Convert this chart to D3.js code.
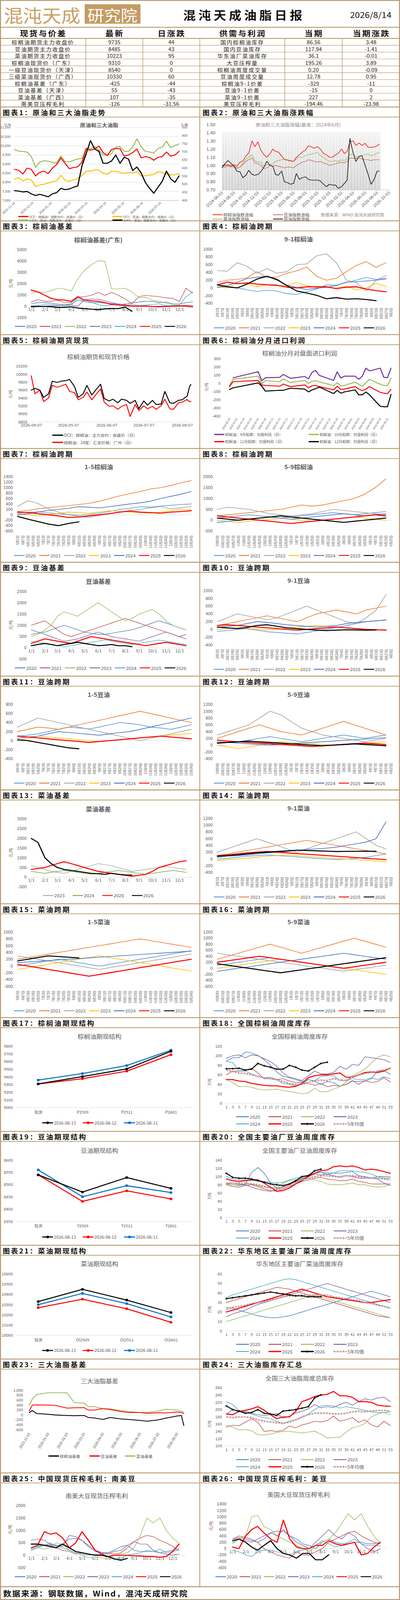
<!DOCTYPE html>
<html>
<head>
<meta charset="utf-8">
<title>混沌天成油脂日报</title>
<script src="https://cdn.jsdelivr.net/npm/d3@7/dist/d3.min.js"></script>
<style>
  html, body { margin: 0; padding: 0; background: #fff; overflow: hidden; }
  svg { display: block; }
  svg text { font-family: "Noto Sans CJK SC", "Noto Sans", sans-serif; }
</style>
</head>
<body>
<svg id="page" viewBox="0 0 1025 4456" preserveAspectRatio="none"></svg>
<script>
// ---------------- 表格数据 ----------------
var spotNames = ['棕榈油期货主力收盘价', '豆油期货主力收盘价', '菜油期货主力收盘价', '棕榈油现货价（广东）', '一级豆油现货价（天津）',
  '三级菜油现货价（广西）', '棕榈油基差（广东）', '豆油基差（天津）', '菜油基差（广西）', '南美豆压榨毛利'];
var spotLatest = ['9735', '8485', '10223', '9310', '8540', '10330', '-425', '55', '107', '-126'];
var spotChange = ['44', '43', '95', '0', '0', '60', '-44', '-43', '-35', '-31.56'];
var supplyNames = ['国内棕榈油库存', '国内豆油库存', '华东油厂菜油库存', '大豆压榨量', '棕榈油周度成交量', '豆油周度成交量',
  '棕榈油9-1价差', '豆油9-1价差', '菜油9-1价差', '美豆压榨毛利'];
var supplyNow = ['86.56', '117.94', '36.1', '195.26', '0.20', '12.78', '-329', '-15', '227', '-194.46'];
var supplyChange = ['3.48', '-1.41', '-0.01', '3.89', '-0.09', '0.95', '-11', '0', '2', '-23.98'];

// ---------------- 公共刻度 ----------------
var MONTH_DAYS = [0, 31, 59, 90, 120, 151, 181, 212, 243, 273, 304, 334];
var MONTH_LBL = ['1/1', '2/1', '3/1', '4/1', '5/1', '6/1', '7/1', '8/1', '9/1', '10/1', '11/1', '12/1'];
var SEMI_DAYS = [0, 15, 31, 45, 59, 74, 90, 105, 120, 135, 151, 166, 181, 196, 212, 227, 243, 258, 273, 288, 304, 319, 334, 349, 364];
var ODD_WEEKS = [1, 3, 5, 7, 9, 11, 13, 15, 17, 19, 21, 23, 25, 27, 29, 31, 33, 35, 37, 39, 41, 43, 45, 47, 49, 51, 53];
var YEARS = ['2020', '2021', '2022', '2023', '2024', '2025', '2026'];
var LBL_91 = ['2月1日', '2月7日', '2月13日', '2月19日', '2月25日', '3月2日', '3月8日', '3月14日', '3月20日', '3月26日', '4月1日', '4月8日',
  '4月14日', '4月20日', '4月26日', '5月5日', '5月11日', '5月17日', '5月23日', '5月29日', '6月4日', '6月10日', '6月16日', '6月22日',
  '6月28日', '7月4日', '7月10日', '7月16日', '7月22日', '7月28日', '8月3日', '8月9日', '8月15日', '8月21日', '8月27日', '9月2日'];
var LBL_15 = ['6月1日', '6月7日', '6月13日', '6月19日', '6月25日', '7月1日', '7月7日', '7月13日', '7月19日', '7月25日', '7月31日', '8月6日',
  '8月12日', '8月18日', '8月24日', '8月30日', '9月5日', '9月11日', '9月17日', '9月23日', '9月29日', '10月11日', '10月17日', '10月23日',
  '10月29日', '11月4日', '11月10日', '11月16日', '11月22日', '11月28日', '12月4日', '12月10日', '12月16日', '12月22日', '12月28日'];
var LBL_59 = ['10月9日', '10月15日', '10月21日', '10月27日', '11月2日', '11月8日', '11月14日', '11月20日', '11月26日', '12月2日', '12月8日',
  '12月14日', '12月20日', '12月26日', '1月1日', '1月7日', '1月13日', '1月19日', '1月25日', '1月31日', '2月6日', '2月12日', '2月18日',
  '2月24日', '3月2日', '3月8日', '3月14日', '3月20日', '3月26日', '4月1日', '4月7日', '4月13日', '4月19日', '4月25日'];

// ---------------- 图表1 ----------------
var c1Dates = ['2025-11-14', '2025-11-21', '2025-11-28', '2025-12-05', '2025-12-12', '2025-12-19', '2025-12-26', '2026-01-02', '2026-01-09',
  '2026-01-16', '2026-01-23', '2026-01-30', '2026-02-06', '2026-02-13', '2026-02-20', '2026-02-27', '2026-03-06', '2026-03-13', '2026-03-20',
  '2026-03-27', '2026-04-03', '2026-04-10', '2026-04-17', '2026-04-24', '2026-05-01', '2026-05-08', '2026-05-15', '2026-05-22', '2026-05-29',
  '2026-06-05', '2026-06-12', '2026-06-19', '2026-06-26', '2026-07-03', '2026-07-10', '2026-07-17', '2026-07-24', '2026-07-31', '2026-08-07', '2026-08-14'];
var c1Palm = [8705, 8650, 8440, 8770, 8700, 8340, 8540, 8600, 8475, 8770, 8970, 9330, 9030, 8740, 8800, 8840, 9100, 9820, 9750, 9820,
  9980, 9620, 9460, 9790, 9850, 9830, 9425, 9490, 9620, 9820, 9330, 9400, 9360, 9200, 9360, 9400, 9655, 9425, 9490, 9690];
var c1Soy = [8170, 8245, 8060, 8180, 8115, 7755, 7850, 7885, 7950, 8015, 8080, 8375, 8100, 8050, 8115, 8215, 8375, 8600, 8600, 8670,
  8670, 8475, 8440, 8600, 8600, 8540, 8475, 8540, 8510, 8575, 8345, 8345, 8390, 8410, 8575, 8540, 8440, 8390, 8410, 8455];
var c1Rape = [9790, 9700, 9680, 9650, 9400, 8820, 9100, 9170, 9150, 9080, 9050, 9440, 9130, 9120, 9200, 9270, 9300, 9880, 9820, 9950,
  9750, 9490, 9460, 9560, 9920, 9950, 9690, 9690, 9920, 10380, 9950, 9690, 9655, 9590, 9850, 9920, 10245, 9885, 10015, 10095];
var c1Crude = [460, 457, 452, 455, 440, 430, 437, 430, 422, 440, 448, 474, 466, 470, 481, 489, 614, 688, 769, 717,
  702, 629, 629, 643, 680, 629, 666, 655, 584, 606, 570, 511, 474, 444, 481, 518, 581, 533, 511, 551];
var c1Ticks = ['2025-11-14', '2025-12-14', '2026-01-14', '2026-02-14', '2026-03-14', '2026-04-14', '2026-05-14', '2026-06-14', '2026-07-14'];
var c1LeftTicks = [7000, 7500, 8000, 8500, 9000, 9500, 10000, 10500, 11000];
var c1RightTicks = [400, 450, 500, 550, 600, 650, 700, 750, 800, 850];

// ---------------- 图表2 ----------------
var c2Dates = ['2024-06-03', '2024-06-17', '2024-07-03', '2024-07-17', '2024-08-03', '2024-08-17', '2024-09-03', '2024-09-17', '2024-10-03',
  '2024-10-17', '2024-11-03', '2024-11-17', '2024-12-03', '2024-12-17', '2025-01-03', '2025-01-17', '2025-02-03', '2025-02-17', '2025-03-03',
  '2025-03-17', '2025-04-03', '2025-04-17', '2025-05-03', '2025-05-17', '2025-06-03', '2025-06-17', '2025-07-03', '2025-07-17', '2025-08-03',
  '2025-08-17', '2025-09-03', '2025-09-17', '2025-10-03', '2025-10-17', '2025-11-03', '2025-11-17', '2025-12-03', '2025-12-17', '2026-01-03',
  '2026-01-17', '2026-02-03', '2026-02-17', '2026-03-03', '2026-03-17', '2026-04-03', '2026-04-17', '2026-05-03', '2026-05-17', '2026-06-03',
  '2026-06-17', '2026-07-03', '2026-07-17', '2026-08-03', '2026-08-14'];
var c2Palm = [1.00, 1.005, 1.01, 0.99, 1.01, 0.99, 1.04, 1.055, 1.115, 1.15, 1.30, 1.23, 1.29, 1.19, 1.13, 1.10, 1.145, 1.20, 1.17, 1.165,
  1.115, 1.07, 1.065, 1.055, 1.05, 1.10, 1.13, 1.165, 1.19, 1.24, 1.225, 1.21, 1.23, 1.20, 1.145, 1.13, 1.10, 1.10, 1.13, 1.15,
  1.20, 1.145, 1.17, 1.29, 1.30, 1.245, 1.275, 1.245, 1.27, 1.225, 1.22, 1.225, 1.24, 1.26];
var c2Soy = [1.00, 0.99, 1.00, 0.98, 0.99, 0.97, 0.98, 1.01, 1.05, 1.07, 1.09, 1.03, 1.02, 1.00, 0.96, 0.97, 1.00, 0.99, 1.00, 0.99,
  0.98, 0.97, 0.98, 0.98, 0.97, 1.00, 1.02, 1.04, 1.05, 1.07, 1.06, 1.05, 1.04, 1.05, 1.03, 1.02, 1.00, 1.01, 1.02, 1.03,
  1.04, 1.03, 1.05, 1.09, 1.09, 1.09, 1.09, 1.08, 1.07, 1.07, 1.06, 1.07, 1.07, 1.07];
var c2Rape = [1.00, 0.97, 0.99, 1.01, 0.98, 0.96, 0.98, 1.03, 1.08, 1.10, 1.13, 1.06, 1.04, 1.04, 0.99, 1.01, 1.01, 1.02, 1.05, 1.06,
  1.07, 1.08, 1.07, 1.06, 1.05, 1.08, 1.10, 1.10, 1.12, 1.13, 1.14, 1.15, 1.16, 1.12, 1.10, 1.07, 1.05, 1.05, 1.06, 1.05,
  1.07, 1.06, 1.08, 1.14, 1.13, 1.11, 1.11, 1.12, 1.13, 1.14, 1.12, 1.13, 1.15, 1.16];
var c2Crude = [0.97, 1.02, 1.06, 1.03, 0.99, 0.93, 0.92, 0.85, 0.88, 0.94, 0.89, 0.88, 0.89, 0.92, 0.98, 1.05, 1.00, 0.99, 0.89, 0.88,
  0.93, 0.80, 0.79, 0.77, 0.78, 0.90, 0.83, 0.85, 0.86, 0.83, 0.82, 0.82, 0.82, 0.81, 0.77, 0.74, 0.77, 0.76, 0.76, 0.72,
  0.74, 0.78, 0.82, 1.33, 1.15, 1.05, 1.11, 1.12, 1.00, 0.90, 0.77, 0.82, 0.93, 0.93];
var c2BandTop = 1.41;
var c2Ticks = ['2024-06-03', '2024-08-03', '2024-10-03', '2024-12-03', '2025-02-03', '2025-04-03', '2025-06-03', '2025-08-03', '2025-10-03',
  '2025-12-03', '2026-02-03', '2026-04-03', '2026-06-03', '2026-08-03', '2026-10-03'];
var c2YTicks = [0.70, 0.80, 0.90, 1.00, 1.10, 1.20, 1.30, 1.40, 1.50];

// ---------------- 图表3 棕榈油基差 ----------------
var c3Basis = [
  [230, 340, 340, 290, 230, 130, 230, 550, 450, 340, 340, 290, 250, 230, 180, 340, 390, 450, 450, 340, 390, 230, 230, 340, 410],
  [390, 600, 450, 450, 550, 360, 340, 820, 870, 980, 1240, 980, 1240, 1000, 660, 230, 870, 980, 920, 870, 760, 710, 450, 1610, 1190],
  [1190, 1290, 1240, 1400, 1610, 1560, 1350, 2460, 3200, 3680, 4050, 4000, 1560, 1560, 1610, 1290, 760, 820, 550, 450, 290, 150, 110, 40, -80],
  [-80, -30, 20, 70, 70, 130, 130, 20, 600, 660, 640, 500, 340, 230, 130, 70, 40, 20, 0, 20, 40, 70, 40, -30, -80],
  [40, 70, 180, 180, 130, 70, 110, 760, 450, 390, 150, 70, 130, 180, 230, 180, 110, 130, 180, 230, 70, 70, 130, 870, 1290],
  [1450, 1290, 980, 710, 600, 570, 450, 870, 570, 500, 450, 340, 180, 130, 70, 40, 20, 40, 0, -30, 0, 20, 40, 70, 20],
  [0, 0, 0, -20, -80, -80, -30, -140, -190, -240, -280, -210, -190, -190, -60, -425]
];
var c3Ticks = [-1000, 0, 1000, 2000, 3000, 4000, 5000];

// ---------------- 图表4 9-1棕榈油 ----------------
var c4Spread = [
  [20, 30, 0, -50, -90, -60, -80, -150, -170, -100, -30, 80, 70, 140, 200, 270, 220, 250],
  [140, 200, 220, 260, 420, 270, 280, 380, 440, 540, 300, 200, 250, 420, 580, 680, 530, 650],
  [450, 430, 650, 560, 380, 500, 380, 420, 600, 620, 830, 880, 650, 200, 140, -80, 200, 320],
  [30, 0, 130, 100, 30, 80, 50, 70, 140, 60, 10, 10, 0, 40, -50, 0, 120, 40],
  [20, 60, 150, 240, 280, 300, 200, 70, 10, -40, -10, 20, 60, 150, 160, 180, 200, 230],
  [80, 150, 110, 130, 100, 80, 70, 20, 0, 30, 30, 30, -20, 20, 30, -30, -70, -100],
  [80, 30, 0, 100, 230, 300, 220, 60, -80, -130, -190, -280, -250, -290, -280, -300, -329]
];
var c4Ticks = [-400, -200, 0, 200, 400, 600, 800, 1000];

// ---------------- 图表5 棕榈油期货现货 ----------------
var c5Dates = ['2026-04-07', '2026-04-10', '2026-04-14', '2026-04-17', '2026-04-21', '2026-04-24', '2026-04-28', '2026-05-01', '2026-05-05',
  '2026-05-08', '2026-05-12', '2026-05-15', '2026-05-19', '2026-05-22', '2026-05-26', '2026-05-29', '2026-06-02', '2026-06-05', '2026-06-09',
  '2026-06-12', '2026-06-16', '2026-06-19', '2026-06-23', '2026-06-26', '2026-06-30', '2026-07-03', '2026-07-07', '2026-07-10', '2026-07-14',
  '2026-07-17', '2026-07-21', '2026-07-24', '2026-07-28', '2026-07-31', '2026-08-04', '2026-08-07', '2026-08-11', '2026-08-13', '2026-08-14'];
var c5Futures = [9600, 9643, 9600, 9417, 9507, 9823, 9793, 9823, 9838, 9869, 9688, 9417, 9507, 9718, 9477, 9598, 9748, 9387, 9327,
  9372, 9281, 9372, 9342, 9267, 9342, 9131, 9327, 9221, 9342, 9236, 9251, 9567, 9281, 9267, 9342, 9357, 9447, 9688, 9739];
var c5Spot = [9959, 9507, 9598, 9311, 9402, 9718, 9673, 9703, 9748, 9567, 9537, 9357, 9417, 9552, 9357, 9477, 9628, 9296, 9191,
  9206, 9116, 9191, 9236, 8935, 9236, 9086, 9206, 9131, 9191, 9116, 9206, 9372, 9131, 9116, 9281, 9296, 9363, 9311, 9310];
var c5Ticks = ['2026-04-07', '2026-05-07', '2026-06-07', '2026-07-07', '2026-08-07'];
var c5YTicks = [8800, 9000, 9200, 9400, 9600, 9800, 10000, 10200];

// ---------------- 图表6 分月进口利润 ----------------
var c6Dates = ['2026-06-29', '2026-06-30', '2026-07-07', '2026-07-08', '2026-07-09', '2026-07-13', '2026-07-14', '2026-07-16', '2026-07-20',
  '2026-07-21', '2026-07-22', '2026-07-23', '2026-07-24', '2026-07-28', '2026-07-29', '2026-07-30', '2026-07-31', '2026-08-03', '2026-08-04',
  '2026-08-05', '2026-08-06', '2026-08-07', '2026-08-10', '2026-08-11', '2026-08-12', '2026-08-13'];
var c6Sep = [null, 68, 141, 32, 68, 73, 109, 61, 83, 54, 134, 156, 97, 35, 141, 64, 87, 87, 49, 87, 185, 151, 185, 73, 68, 185];
var c6Oct = [-26, 49, 87, -4, 32, 20, 54, 10, 36, -1, 25, 32, 20, -29, 6, -31, -26, 15, -12, -38, 6, 49, -12, -26, -29, 64];
var c6Nov = [-40, 20, 35, -20, -25, -35, -10, -40, -20, -55, -30, -25, -40, -80, -35, -75, -70, -40, -70, -90, -70, -40, -110, -120, -125, -75];
var c6Dec = [-75, -55, 5, -35, -95, -85, -85, -60, -70, -105, -80, -65, -45, -125, -85, -120, -105, -80, -140, -140, -105, -140, -280, -285, -285, -135];
var c6Ticks = ['2026-06-29', '2026-07-01', '2026-07-03', '2026-07-05', '2026-07-07', '2026-07-09', '2026-07-11', '2026-07-13', '2026-07-15',
  '2026-07-17', '2026-07-19', '2026-07-21', '2026-07-23', '2026-07-25', '2026-07-27', '2026-07-29', '2026-07-31', '2026-08-02', '2026-08-04',
  '2026-08-06', '2026-08-08', '2026-08-10', '2026-08-12'];
var c6YTicks = [-400, -300, -200, -100, 0, 100, 200, 300];

// ---------------- 图表7/8 棕榈油跨期 ----------------
var c7Spread = [
  [60, 90, 110, 70, 40, 10, -20, 20, 60, 120, 200, 240, 300, 280, 320, 350, 380, 400],
  [120, 160, 220, 260, 300, 340, 380, 420, 500, 600, 700, 780, 860, 950, 1000, 1080, 1180, 1260],
  [300, 520, 420, 220, 100, 0, -60, -100, -20, 50, 100, 160, 200, 260, 300, 220, 260, 300],
  [40, 0, -40, 10, 50, 100, 80, 60, 100, 150, 120, 100, 80, 60, 100, 150, 200, 180],
  [0, 40, 100, 160, 200, 240, 300, 280, 250, 300, 350, 400, 440, 500, 600, 680, 760, 860],
  [100, 80, 40, 0, -40, -100, -80, -40, 0, 40, 100, 140, 100, 80, 60, 100, 120, 150],
  [-60, -160, -250, -340, -400, -320, -260]
];
var c7Ticks = [-600, -400, -200, 0, 200, 400, 600, 800, 1000, 1200, 1400];
var c8Spread = [
  [100, 150, 200, 250, 200, 150, 100, 150, 200, 250, 300, 350, 300, 250, 300, 350, 400],
  [200, 250, 300, 350, 400, 450, 500, 600, 700, 650, 700, 800, 900, 1000, 1200, 1500, 1900],
  [500, 600, 550, 500, 400, 300, 250, 200, 250, 300, 400, 500, 450, 400, 350, 300, 250],
  [0, -50, -100, -50, 0, 50, 100, 50, 0, -50, 0, 50, 100, 150, 100, 50, 0],
  [-100, -50, 0, 50, 100, 150, 100, 50, 100, 150, 200, 250, 300, 250, 200, 250, 300],
  [200, 150, 100, 50, 0, -50, -100, -150, -100, -50, 0, 50, 100, 150, 200, 250, 200],
  [100, 50, 0, 50, 100, 150, 200, 150, 100, 50, 0, -50, -100, -50, 0, 50, 100]
];
var c8Ticks = [-500, 0, 500, 1000, 1500, 2000];

// ---------------- 图表9-12 豆油 ----------------
var c9Basis = [
  [600, 650, 700, 800, 900, 1000, 900, 800, 700, 650, 600, 600, 650, 700, 750, 800, 900, 1000, 1100, 1200, 1100, 1000, 900, 800],
  [1000, 1100, 1200, 1000, 800, 600, 500, 600, 700, 800, 900, 1000, 1100, 1200, 1300, 1200, 1100, 1000, 900, 800, 700, 600, 500, 600],
  [500, 600, 800, 1000, 1400, 1600, 1500, 1400, 1600, 1800, 2000, 1800, 1600, 1400, 1200, 1300, 1500, 1600, 1700, 1500, 1200, 1000, 900, 800],
  [800, 700, 600, 500, 400, 300, 350, 400, 500, 600, 700, 600, 500, 450, 400, 350, 300, 400, 500, 600, 700, 600, 500, 400],
  [300, 250, 200, 150, 100, 50, 100, 150, 200, 250, 300, 350, 300, 250, 200, 150, 200, 250, 300, 350, 300, 250, 200, 150],
  [200, 300, 400, 350, 300, 250, 200, 300, 400, 500, 450, 400, 350, 300, 250, 200, 150, 100, 150, 200, 250, 200, 150, 100],
  [100, 150, 200, 150, 100, 150, 200, 250, 200, 150, 100, 120, 150, 100, 98, 55]
];
var c9Ticks = [-500, 0, 500, 1000, 1500, 2000, 2500];
var c10Spread = [
  [-50, -30, 0, 20, -20, -60, -80, -100, -120, -80, -40, 0, 50, 100, 150, 200, 220, 250],
  [100, 150, 200, 250, 300, 350, 300, 250, 200, 300, 400, 450, 500, 450, 400, 500, 550, 600],
  [200, 300, 400, 350, 300, 250, 300, 400, 500, 600, 500, 400, 300, 200, 150, 300, 500, 900],
  [0, 20, 50, 30, 0, -20, 0, 30, 60, 80, 100, 80, 60, 40, 20, 0, -20, 0],
  [50, 80, 100, 150, 200, 180, 150, 120, 100, 80, 60, 80, 100, 150, 180, 200, 220, 240],
  [100, 120, 100, 80, 60, 40, 20, 0, -20, 0, 20, 40, 60, 40, 20, 0, -10, -20],
  [60, 40, 20, 50, 100, 120, 80, 40, 20, 0, -20, -30, -20, -10, -15, -20, -15]
];
var c10Ticks = [-400, -200, 0, 200, 400, 600, 800, 1000];
var c11Spread = [
  [100, 120, 150, 200, 250, 300, 280, 260, 300, 350, 400, 380, 350, 300, 280, 250, 300, 350],
  [200, 250, 300, 280, 250, 300, 350, 400, 450, 500, 550, 600, 650, 600, 550, 500, 450, 400],
  [300, 400, 500, 450, 400, 350, 300, 250, 200, 150, 100, 50, 0, 50, 100, 150, 200, 250],
  [0, 50, 100, 80, 60, 40, 20, 0, -20, 0, 20, 40, 60, 80, 100, 120, 140, 160],
  [50, 80, 100, 150, 200, 180, 160, 140, 120, 150, 180, 200, 250, 300, 350, 400, 450, 500],
  [100, 80, 60, 40, 20, 0, -20, -40, -20, 0, 20, 40, 60, 80, 100, 80, 60, 40],
  [20, 0, -40, -80, -120, -160, -180]
];
var c11Ticks = [-400, -200, 0, 200, 400, 600, 800];
var c12Spread = [
  [50, 80, 100, 150, 200, 250, 200, 150, 100, 150, 200, 250, 300, 250, 200, 250, 300],
  [200, 300, 400, 500, 600, 500, 400, 350, 300, 400, 500, 600, 700, 600, 500, 400, 300],
  [300, 400, 500, 600, 800, 1000, 900, 700, 500, 400, 300, 250, 200, 150, 100, 150, 200],
  [0, -50, -100, -50, 0, 50, 100, 80, 60, 40, 20, 0, 20, 40, 60, 80, 100],
  [100, 80, 60, 40, 20, 0, 20, 40, 60, 80, 100, 120, 140, 160, 180, 200, 220],
  [150, 120, 100, 80, 60, 40, 20, 0, -20, -40, -20, 0, 20, 40, 60, 40, 20],
  [60, 80, 100, 120, 100, 80, 60, 40, 20, 0, -20, 0, 20, 40, 20, 0, -20]
];
var c12Ticks = [-400, -200, 0, 200, 400, 600, 800, 1000, 1200];

// ---------------- 图表13-16 菜油 ----------------
var c13Years = ['2023', '2024', '2025', '2026'];
var c13Basis = [
  [600, 500, 400, 300, 250, 200, 300, 400, 500, 600, 700, 650, 600, 500, 400, 300, 350, 400, 450, 500, 550, 500, 450, 400],
  [300, 250, 200, 250, 300, 350, 300, 250, 200, 150, 200, 250, 300, 350, 300, 250, 200, 150, 200, 250, 300, 350, 300, 250],
  [400, 450, 500, 600, 700, 800, 700, 600, 500, 400, 300, 250, 200, 150, 100, 50, 100, 150, 300, 500, 600, 700, 800, 850],
  [2000, 1800, 1000, 700, 500, 400, 350, 300, 250, 200, 180, 150, 200, 150, 120, 107]
];
var c13Ticks = [-500, 0, 500, 1000, 1500, 2000, 2500, 3000];
var c14Spread = [
  [0, 20, 50, 80, 100, 120, 100, 80, 60, 40, 20, 0, -20, 0, 20, 50, 100, 150],
  [100, 150, 200, 250, 300, 350, 400, 450, 500, 550, 500, 450, 400, 350, 300, 250, 200, 150],
  [200, 300, 400, 500, 600, 500, 400, 300, 200, 300, 400, 500, 600, 700, 800, 600, 400, 300],
  [-50, -20, 0, 20, 50, 80, 100, 120, 100, 80, 60, 40, 20, 0, -20, -40, -60, -80],
  [50, 80, 100, 120, 150, 180, 200, 220, 250, 280, 300, 320, 350, 400, 450, 500, 600, 1100],
  [100, 120, 150, 180, 200, 220, 200, 180, 160, 140, 120, 100, 80, 60, 40, 20, 0, -20],
  [80, 100, 120, 150, 180, 200, 220, 240, 260, 250, 240, 230, 220, 225, 227, 230, 227]
];
var c14Ticks = [-400, -200, 0, 200, 400, 600, 800, 1000, 1200];
var c15Spread = [
  [0, 50, 100, 150, 200, 150, 100, 50, 0, 50, 100, 150, 200, 250, 300, 350, 400, 450],
  [200, 250, 300, 350, 400, 450, 500, 550, 600, 650, 700, 750, 800, 750, 700, 650, 600, 550],
  [300, 250, 200, 150, 100, 50, 0, -50, -100, -50, 0, 50, 100, 150, 200, 250, 300, 350],
  [-100, -50, 0, 50, 100, 150, 200, 250, 300, 250, 200, 150, 100, 50, 0, -50, -100, -150],
  [100, 120, 140, 160, 180, 200, 220, 240, 260, 280, 300, 320, 340, 360, 380, 400, 420, 440],
  [50, 0, -50, -100, -150, -200, -250, -300, -250, -200, -150, -100, -50, 0, 50, 100, 150, 200],
  [150, 200, 250, 300, 280, 260, 240]
];
var c15Ticks = [-600, -400, -200, 0, 200, 400, 600, 800, 1000];
var c16Spread = [
  [100, 150, 200, 250, 300, 350, 300, 250, 200, 150, 100, 50, 0, 50, 100, 150, 200],
  [300, 400, 500, 600, 700, 800, 700, 600, 500, 600, 700, 800, 900, 1000, 900, 800, 700],
  [500, 450, 400, 350, 300, 250, 200, 150, 100, 50, 0, -50, -100, -50, 0, 50, 100],
  [0, 50, 100, 150, 200, 250, 300, 250, 200, 150, 100, 50, 0, -50, -100, -150, -200],
  [-100, -50, 0, 50, 100, 150, 200, 250, 300, 350, 400, 450, 500, 450, 400, 350, 300],
  [200, 250, 300, 350, 400, 350, 300, 250, 200, 150, 100, 50, 0, 50, 100, 150, 200],
  [150, 100, 50, 0, -50, -100, -150, -100, -50, 0, 50, 100, 150, 200, 250, 300, 350]
];
var c16Ticks = [-600, -400, -200, 0, 200, 400, 600, 800, 1000, 1200];

// ---------------- 期现结构 ----------------
var structDates = ['2026-08-13', '2026-08-12', '2026-08-11'];
var c17Cats = ['现货', 'P2509', 'P2511', 'P2601'];
var c17Vals = [[9310, 9406, 9505, 9735], [9310, 9378, 9476, 9691], [9360, 9445, 9550, 9749]];
var c17Ticks = [9000, 9100, 9200, 9300, 9400, 9500, 9600, 9700, 9800];
var c19Cats = ['现货', 'Y2509', 'Y2511', 'Y2601'];
var c19Vals = [[8540, 8470, 8529, 8485], [8540, 8432, 8475, 8442], [8560, 8451, 8496, 8468]];
var c19Ticks = [8350, 8400, 8450, 8500, 8550, 8600];
var c21Cats = ['现货', 'OI2509', 'OI2511', 'OI2601'];
var c21Vals = [[10330, 10450, 10345, 10223], [10270, 10353, 10260, 10128], [10300, 10410, 10310, 10180]];
var c21Ticks = [10000, 10100, 10200, 10300, 10400, 10500, 10600];

// ---------------- 周度库存 ----------------
var c18Stock = [
  [89, 96, 96, 108, 106, 101, 92, 80, 66, 57, 54, 50, 46, 50, 47, 40, 46, 44, 36, 40, 47, 46, 47, 52, 68, 69, 61],
  [60, 68, 68, 70, 74, 64, 52, 52, 50, 52, 47, 44, 44, 42, 38, 42, 35, 38, 36, 40, 48, 40, 48, 44, 46, 54, 45],
  [50, 44, 35, 36, 34, 30, 28, 29, 30, 27, 25, 23, 20, 22, 32, 24, 25, 30, 35, 45, 58, 65, 72, 85, 97, 102, 98],
  [95, 100, 102, 96, 102, 100, 94, 88, 78, 64, 55, 52, 48, 58, 68, 62, 62, 65, 78, 72, 82, 80, 98, 96, 94, 92, 86],
  [88, 86, 68, 68, 62, 56, 54, 55, 50, 42, 40, 37, 40, 50, 47, 57, 58, 58, 48, 48, 52, 50, 50, 54, 50, 56, 52],
  [50, 50, 47, 46, 42, 40, 38, 37, 37, 35, 34, 36, 42, 54, 58, 60, 60, 62, 64, 55, 55, 60, 65, 66, 65, 68, 74],
  [73, 73, 74, 70, 72, 84, 79, 76, 72, 72, 80, 76, 70, 68, 76, 84, 86.56]
];
var c18Avg = [70, 67, 64, 63, 60, 57, 54, 52, 50, 46, 42, 40, 40, 44, 48, 49, 48, 52, 50, 48, 56, 60, 63, 65, 68, 70, 74];
var c18Ticks = [0, 20, 40, 60, 80, 100, 120];
var c20Stock = [
  [84, 80, 78, 80, 110, 122, 108, 84, 72, 75, 80, 88, 96, 100, 106, 104, 106, 108, 108, 110, 112, 102, 100, 96, 94, 84, 78],
  [80, 76, 74, 78, 80, 76, 70, 66, 64, 70, 76, 82, 88, 92, 96, 98, 94, 92, 90, 90, 94, 88, 86, 82, 82, 82, 82],
  [82, 80, 80, 82, 82, 78, 74, 72, 74, 84, 90, 92, 94, 96, 92, 88, 82, 80, 80, 82, 84, 80, 80, 76, 74, 76, 80],
  [82, 84, 82, 80, 74, 70, 66, 64, 68, 74, 80, 86, 94, 102, 108, 110, 106, 102, 98, 102, 100, 96, 96, 96, 100, 100, 99],
  [100, 94, 92, 92, 90, 90, 88, 86, 84, 86, 92, 96, 100, 104, 108, 110, 110, 108, 114, 114, 114, 112, 110, 106, 100, 96, 96],
  [94, 90, 88, 90, 92, 92, 84, 74, 64, 66, 72, 82, 90, 100, 108, 114, 116, 124, 126, 124, 126, 122, 116, 118, 116, 112, 108],
  [108, 98, 96, 96, 94, 90, 86, 82, 80, 78, 82, 90, 100, 102, 114, 117.94]
];
var c20Avg = [84, 84, 84, 84, 82, 80, 76, 72, 70, 74, 80, 86, 92, 96, 100, 102, 102, 100, 100, 102, 102, 100, 98, 96, 96, 94, 92];
var c20Ticks = [0, 20, 40, 60, 80, 100, 120, 140];
var c22Stock = [
  [25, 24, 22, 20, 18, 16, 15, 14, 14, 15, 16, 18, 20, 22, 24, 26, 28, 30, 32, 34, 36, 38, 40, 42, 40, 38, 36],
  [30, 32, 34, 36, 38, 40, 42, 44, 46, 45, 44, 42, 40, 38, 36, 34, 32, 30, 28, 26, 24, 22, 20, 18, 16, 15, 14],
  [10, 12, 14, 16, 18, 20, 22, 24, 26, 28, 30, 32, 34, 36, 38, 36, 34, 32, 30, 28, 26, 24, 22, 20, 18, 16, 14],
  [15, 18, 20, 22, 25, 28, 30, 32, 34, 36, 38, 40, 42, 44, 46, 48, 50, 48, 46, 44, 42, 40, 38, 36, 34, 32, 30],
  [35, 38, 40, 42, 44, 46, 48, 50, 52, 54, 55, 54, 52, 50, 48, 46, 44, 42, 40, 38, 36, 34, 32, 30, 28, 26, 24],
  [20, 22, 24, 26, 28, 30, 32, 34, 36, 38, 40, 42, 44, 42, 40, 38, 36, 35, 34, 33, 32, 31, 30, 30, 31, 32, 33],
  [34, 35, 36, 37, 38, 39, 40, 41, 40, 39, 38, 37, 37, 36, 36, 36.1]
];
var c22Avg = [23, 25, 26, 27, 29, 30, 31, 33, 34, 36, 37, 37, 38, 38, 38, 38, 38, 36, 35, 34, 33, 32, 30, 29, 27, 26, 24];
var c22Ticks = [0, 10, 20, 30, 40, 50, 60];
var c24Stock = [
  [],
  [152, 157, 156, 165, 175, 165, 140, 142, 140, 143, 155, 150, 158, 162, 168, 166, 170, 182, 168, 172, 178, 165, 172, 158, 152, 168, 156],
  [157, 152, 144, 145, 142, 131, 130, 133, 137, 140, 140, 138, 136, 138, 141, 132, 122, 123, 124, 138, 150, 154, 162, 180, 188, 192, 186],
  [187, 200, 194, 196, 190, 186, 184, 186, 190, 176, 182, 190, 196, 202, 214, 205, 208, 206, 214, 220, 212, 222, 230, 226, 232, 234, 222],
  [222, 214, 198, 192, 188, 182, 178, 175, 168, 162, 168, 172, 178, 188, 200, 210, 212, 210, 204, 208, 205, 202, 198, 194, 192, 192, 194],
  [188, 186, 195, 198, 202, 208, 198, 186, 175, 180, 180, 195, 222, 228, 236, 240, 242, 250, 238, 238, 234, 222, 222, 220, 212, 210, 209],
  [210, 200, 196, 190, 192, 200, 190, 188, 184, 196, 198, 200, 204, 208, 232, 240.6]
];
var c24Avg = [180, 178, 180, 180, 178, 172, 168, 166, 164, 162, 166, 172, 180, 186, 190, 190, 190, 188, 188, 190, 194, 196, 194, 196, 198, 198, 196];
var c24Ticks = [100, 120, 140, 160, 180, 200, 220, 240, 260];

// ---------------- 图表23 三大油脂基差 ----------------
var c23Dates = ['2025-12-03', '2025-12-08', '2025-12-15', '2026-01-03', '2026-01-15', '2026-02-03', '2026-02-15', '2026-03-03', '2026-03-10',
  '2026-03-20', '2026-04-03', '2026-04-15', '2026-05-03', '2026-05-15', '2026-06-03', '2026-06-15', '2026-07-03', '2026-07-15', '2026-08-03',
  '2026-08-10', '2026-08-14'];
var c23Palm = [100, 180, 60, 30, 0, -20, -30, -20, -100, -120, -180, -100, -160, -180, -220, -250, -200, -130, -40, -20, -425];
var c23Soy = [170, 400, 410, 400, 390, 280, 290, 300, 200, 200, 260, 220, 140, 100, 100, 70, 90, 80, 120, 100, 55];
var c23Rape = [400, 650, 830, 900, 900, 900, 500, 480, 340, 340, 260, 250, 180, 140, 100, 100, 160, 230, 200, 150, 107];
var c23Ticks = ['2025-12-03', '2026-01-03', '2026-02-03', '2026-03-03', '2026-04-03', '2026-05-03', '2026-06-03', '2026-07-03', '2026-08-03'];
var c23YTicks = [-600, -400, -200, 0, 200, 400, 600, 800, 1000];

// ---------------- 图表25/26 压榨毛利 ----------------
var c25Margin = [
  [250, 350, 400, 420, 380, 450, 650, 680, 600, 400, 200, 120, 100, 200, 350, 400, 200, 150, 150, 150, 100, 150, 200, 250],
  [300, 400, 420, 400, 300, 200, 150, 50, 100, 50, 0, 50, 100, 50, 100, 300, 550, 700, 800, 750, 600, 500, 350, 200],
  [200, 300, 250, 300, 500, 450, 200, 100, 0, -100, -50, -100, -150, 0, 50, 100, 300, 800, 1500, 1300, 1500, 1000, 700, 500],
  [600, 650, 600, 450, 400, 350, 800, 750, 600, 350, 150, 100, 50, 150, 200, 400, 550, 450, 450, 200, 100, 50, 0, 50],
  [200, 300, 400, 500, 350, 300, 200, 100, 50, 0, 50, 0, -50, -100, -150, 0, 50, 100, 200, 150, 250, 100, 150, 200],
  [300, 400, 950, 850, 900, 700, 300, 500, 950, 600, 200, 50, -50, 0, 0, 0, -20, -30, -50, -50, -80, -50, 150, 450],
  [450, 450, 400, 350, 300, 450, 300, 150, 100, 50, 0, 0, -50, -150, -200, -126]
];
var c25Ticks = [-500, 0, 500, 1000, 1500, 2000];
var c26Margin = [
  [200, 300, 250, 200, 300, 400, 500, 550, 550, 400, 300, 150, 100, 0, 200, 300, 200, 150, 150, 200, 200, 150, 150, 200],
  [300, 400, 350, 300, 200, 0, -100, -200, -250, -300, -100, -200, -200, -100, 0, 200, 300, 400, 500, 550, 400, 300, 200, 150],
  [150, 300, 400, 1000, 1050, 700, 600, 400, 300, 200, 100, 0, -100, 100, 200, 300, 500, 800, 1100, 900, 1100, 700, 400, 150],
  [300, 350, 300, 250, 200, 300, 500, 400, 600, 400, 200, 100, 0, 200, 400, 600, 400, 300, 500, 400, 150, 0, -100, 0],
  [-50, -100, -200, -250, -100, -50, -50, -100, -150, -200, -100, -50, 0, 100, 250, 150, 50, 100, 200, 300, 150, 100, 100, 80],
  [50, 0, 400, 600, 700, 500, 300, 200, 900, 300, 50, 0, 0, 100, 100, 250, 150, 100, 150, 200, -200, -150, 50, 200],
  [250, 300, 200, 50, -50, 100, 250, 0, -150, -200, -300, -150, -150, -350, -350, -194]
];
var c26Ticks = [-600, -400, -200, 0, 200, 400, 600, 800, 1000, 1200, 1400];

// ---------------- 样式 ----------------
var GOLD = '#b8996a';
var TXT = '#595959';
var SEASON_COLORS = ['#4f81bd', '#c0504d', '#9bbb59', '#8064a2', '#4bacc6', '#ff0000', '#000000'];
var SPREAD_COLORS = ['#5b9bd5', '#ed7d31', '#a5a5a5', '#ffc000', '#4472c4', '#ff0000', '#000000'];
var RAPE_COLORS = ['#a5a5a5', '#70ad47', '#ff0000', '#000000'];
var STRUCT_COLORS = ['#000000', '#ff0000', '#0070c0'];
var AVG_COLOR = '#943634';

// 页面按 1025x4456 绘制；窗口较矮时整体缩放到可见高度
var svg = d3.select('#page')
  .attr('width', 1025)
  .attr('height', Math.min(4456, window.innerHeight || 4456));
var defs = svg.append('defs');
var parseDate = d3.timeParse('%Y-%m-%d');
var fmtPlain = function(d) { return String(d); };
var fmtComma = function(d) { return (d < 0 ? '-' : '') + d3.format(',')(Math.abs(d)); };
var fmt2 = function(d) { return d.toFixed(2); };

// ---------------- 小工具 ----------------
function addTitle(g, txt, x, y, size, o) {
  o = o || {};
  return g.append('text').attr('x', x).attr('y', y).attr('text-anchor', 'middle')
    .attr('dominant-baseline', 'central').style('font-size', size + 'px')
    .style('font-weight', o.weight || 'normal').attr('fill', o.color || TXT).text(txt);
}

function unitLabel(g, txt, x, y, rot, size, color) {
  g.append('text').attr('text-anchor', 'middle').attr('dominant-baseline', 'central')
    .attr('transform', 'translate(' + x + ',' + y + ')' + (rot ? ' rotate(' + rot + ')' : ''))
    .style('font-size', (size || 10) + 'px').attr('fill', color || '#8c6d5a').text(txt);
}

function hLine(g, x0, x1, yy, color, w) {
  g.append('line').attr('x1', x0).attr('x2', x1).attr('y1', yy).attr('y2', yy)
    .attr('stroke', color || '#d9d9d9').attr('stroke-width', w || 1);
}

function styleAxis(a, size, color) {
  a.attr('font-family', null).attr('font-size', null);
  a.select('.domain').remove();
  a.selectAll('text').style('font-size', size + 'px').attr('fill', color || TXT);
}

function yAxisLeft(g, y, ticks, axX, labelX, o) {
  o = o || {};
  var a = g.append('g').attr('transform', 'translate(' + axX + ',0)')
    .call(d3.axisLeft(y).tickValues(ticks).tickSize(o.grid ? -o.grid : 0)
      .tickPadding(axX - labelX).tickFormat(o.fmt || fmtPlain));
  styleAxis(a, o.size || 10, o.color);
  a.selectAll('line').attr('stroke', '#d9d9d9');
  return a;
}

function yAxisRight(g, y, ticks, axX, labelX, o) {
  o = o || {};
  var a = g.append('g').attr('transform', 'translate(' + axX + ',0)')
    .call(d3.axisRight(y).tickValues(ticks).tickSize(0).tickPadding(labelX - axX).tickFormat(o.fmt || fmtPlain));
  styleAxis(a, o.size || 10, o.color);
  return a;
}

function xAxisBottom(g, x, ticks, yPos, o) {
  o = o || {};
  var a = g.append('g').attr('transform', 'translate(0,' + yPos + ')')
    .call(d3.axisBottom(x).tickValues(ticks).tickSize(o.tick || 0).tickPadding(o.pad || 4).tickFormat(o.fmt));
  styleAxis(a, o.size || 10, o.color);
  a.selectAll('line').attr('stroke', '#bfbfbf');
  if (o.rot) {
    a.selectAll('text').attr('x', 0).attr('y', 0).attr('dy', '0.35em')
      .attr('transform', 'translate(' + (o.dx || 0) + ',' + (o.pad || 4) + ') rotate(' + o.rot + ')')
      .style('text-anchor', 'end');
  }
  return a;
}

function drawLine(g, pts, xf, y, color, width, o) {
  o = o || {};
  if (!pts.length) return;
  var line = d3.line()
    .defined(function(d) { return d[1] !== null && d[1] !== undefined; })
    .x(function(d) { return xf(d[0]); })
    .y(function(d) { return y(d[1]); });
  if (o.hollow) {
    g.append('path').datum(pts).attr('d', line).attr('fill', 'none').attr('stroke', color)
      .attr('stroke-width', 3.4).attr('stroke-dasharray', '5,2.5');
    g.append('path').datum(pts).attr('d', line).attr('fill', 'none').attr('stroke', '#fff')
      .attr('stroke-width', 1.3).attr('stroke-dasharray', '5,2.5');
    return;
  }
  g.append('path').datum(pts).attr('d', line).attr('fill', 'none').attr('stroke', color)
    .attr('stroke-width', width).attr('stroke-linejoin', 'round').attr('stroke-linecap', 'round');
  if (o.cross) {
    g.selectAll(null).data(pts).enter().append('path')
      .attr('d', d3.symbol().type(d3.symbolCross).size(16))
      .attr('transform', function(d) { return 'translate(' + xf(d[0]) + ',' + y(d[1]) + ')'; })
      .attr('fill', color);
  }
  if (o.dots) {
    g.selectAll(null).data(pts).enter().append('circle')
      .attr('cx', function(d) { return xf(d[0]); }).attr('cy', function(d) { return y(d[1]); })
      .attr('r', 3.6).attr('fill', color);
  }
}

function legendLine(g, x, y, color, label, o) {
  o = o || {};
  var len = o.len || 26;
  if (o.hollow) {
    g.append('line').attr('x1', x).attr('x2', x + len).attr('y1', y).attr('y2', y)
      .attr('stroke', color).attr('stroke-width', 3.4).attr('stroke-dasharray', '5,2.5');
    g.append('line').attr('x1', x).attr('x2', x + len).attr('y1', y).attr('y2', y)
      .attr('stroke', '#fff').attr('stroke-width', 1.3).attr('stroke-dasharray', '5,2.5');
  } else {
    g.append('line').attr('x1', x).attr('x2', x + len).attr('y1', y).attr('y2', y)
      .attr('stroke', color).attr('stroke-width', o.sw || 3);
  }
  if (o.dot) g.append('circle').attr('cx', x + len / 2).attr('cy', y).attr('r', 3.6).attr('fill', color);
  if (o.cross) g.append('path').attr('d', d3.symbol().type(d3.symbolCross).size(22)())
    .attr('transform', 'translate(' + (x + len / 2) + ',' + y + ')').attr('fill', color);
  g.append('text').attr('x', x + len + 2).attr('y', y).attr('dominant-baseline', 'central')
    .style('font-size', (o.size || 11) + 'px').attr('fill', o.color || TXT).text(label);
}

// ---------------- 通用图形 ----------------
function seasonChart(g, o) {
  var b = o.box;
  var x = d3.scaleLinear().domain([0, 365]).range([b[0], b[2]]);
  var y = d3.scaleLinear().domain([o.yt[0], o.yt[o.yt.length - 1]]).range([b[3], b[1]]);
  addTitle(g, o.title, o.tx, o.ty, o.tsize || 16, {weight: o.tweight || 'bold'});
  yAxisLeft(g, y, o.yt, b[0], o.labX, {size: 11});
  hLine(g, b[0], b[2], y(0), '#d9d9d9');
  xAxisBottom(g, x, MONTH_DAYS, y(0), {fmt: function(d, i) { return MONTH_LBL[i]; }, size: 11, pad: 5});
  unitLabel(g, '元/吨', o.ux, o.uy, -90, 11);
  var years = o.years || YEARS;
  o.data.forEach(function(vals, i) {
    var thick = years[i] === '2025' || years[i] === '2026';
    drawLine(g, d3.zip(SEMI_DAYS, vals), x, y, o.colors[i], thick ? 2.8 : 1.5);
  });
  years.forEach(function(yr, i) {
    legendLine(g, o.lx + i * o.lstep, o.ly, o.colors[i], yr, {len: 27, size: 12, sw: 2.5});
  });
}

function spreadChart(g, o) {
  var b = [42, 51, 492, 202];
  var idx = d3.range(o.labels.length);
  var x = d3.scalePoint().domain(idx).range([45, 490]);
  var y = d3.scaleLinear().domain([o.yt[0], o.yt[o.yt.length - 1]]).range([b[3], b[1]]);
  addTitle(g, o.title, 253, 22, 16, {weight: 'bold'});
  yAxisLeft(g, y, o.yt, b[0], 33, {size: 11});
  hLine(g, b[0], b[2], y(0), '#d9d9d9');
  xAxisBottom(g, x, idx, b[3], {fmt: function(d) { return o.labels[d]; }, size: 8.5, pad: 12, rot: -90});
  var colors = o.colors || SPREAD_COLORS;
  o.data.forEach(function(vals, i) {
    var xs = d3.range(0, o.labels.length, 2);
    drawLine(g, d3.zip(xs, vals), x, y, colors[i], i >= 5 ? 2.8 : 1.8);
  });
  YEARS.forEach(function(yr, i) {
    legendLine(g, 36 + i * 64, 270, colors[i], yr, {len: 27, size: 12, sw: 2.5});
  });
}

function weekChart(g, o) {
  var b = [68, 52, 488, o.bottom || 211];
  var x = d3.scaleLinear().domain([1, 53]).range([b[0], b[2]]);
  var y = d3.scaleLinear().domain([o.yt[0], o.yt[o.yt.length - 1]]).range([b[3], b[1]]);
  addTitle(g, o.title, 256, o.ty || 23, 16);
  yAxisLeft(g, y, o.yt, b[0], 57, {size: 10.5});
  hLine(g, b[0] - 3, b[2] + 3, b[3], '#d9d9d9');
  xAxisBottom(g, x, ODD_WEEKS, b[3], {fmt: fmtPlain, size: 10, pad: 7});
  unitLabel(g, '万吨', 25, (b[1] + b[3]) / 2 + 20, -90, 10);
  o.data.forEach(function(vals, i) {
    if (i === 6) return;
    drawLine(g, d3.zip(ODD_WEEKS, vals), x, y, SEASON_COLORS[i], i === 5 ? 2.8 : 1.6);
  });
  drawLine(g, d3.zip(ODD_WEEKS, o.avg), x, y, AVG_COLOR, 3, {hollow: true});
  drawLine(g, d3.zip(ODD_WEEKS, o.data[6]), x, y, '#000', 2.6, {cross: true});
  var cols = [93, 176, 259, 343];
  var ly = [o.ly || 248, (o.ly || 248) + 20];
  YEARS.forEach(function(yr, i) {
    legendLine(g, cols[i % 4], ly[Math.floor(i / 4)], SEASON_COLORS[i], yr,
      {len: 33, size: 12, sw: i >= 5 ? 3.5 : 2.5, cross: i === 6});
  });
  legendLine(g, cols[3], ly[1], AVG_COLOR, '5年均值', {len: 33, size: 12, hollow: true});
}

function structChart(g, o) {
  var b = [42, 52, 495, 223];
  var x = d3.scalePoint().domain(o.cats).range([98, 438]);
  var y = d3.scaleLinear().domain([o.yt[0], o.yt[o.yt.length - 1]]).range([b[3], b[1]]);
  addTitle(g, o.title, 255, o.ty || 23, 16);
  yAxisLeft(g, y, o.yt, b[0], 33, {size: 10.5});
  hLine(g, b[0], b[2], b[3], '#d9d9d9');
  xAxisBottom(g, x, o.cats, b[3], {fmt: fmtPlain, size: 10.5, pad: 9});
  for (var i = o.vals.length - 1; i >= 0; i--) {
    drawLine(g, d3.zip(o.cats, o.vals[i]), x, y, STRUCT_COLORS[i], 2.8, {dots: true});
  }
  var lx = [108, 212, 318];
  structDates.forEach(function(dt, i) {
    legendLine(g, lx[i], o.ly || 265, STRUCT_COLORS[i], dt, {len: 28, size: 11, sw: 3, dot: true});
  });
}

// ---------------- 具体图表 ----------------
function chart1(g) {
  var b = [37, 29, 459, 232];
  var x = d3.scaleTime().domain([parseDate('2025-11-14'), parseDate('2026-08-14')]).range([b[0], b[2]]);
  var y = d3.scaleLinear().domain([7000, 11000]).range([b[3], b[1]]);
  var y2 = d3.scaleLinear().domain([400, 850]).range([b[3], b[1]]);
  addTitle(g, '原油和三大油脂', 254, 21, 14, {weight: 'bold'});
  yAxisLeft(g, y, c1LeftTicks, b[0], 27, {grid: b[2] - b[0], size: 8.5, fmt: fmtComma});
  yAxisRight(g, y2, c1RightTicks, b[2], 466, {size: 8.5});
  hLine(g, b[0], b[2], b[3], '#bfbfbf');
  xAxisBottom(g, x, c1Ticks.map(parseDate), b[3],
    {fmt: d3.timeFormat('%Y-%m-%d'), size: 8.5, pad: 6, tick: 3, rot: -45});
  unitLabel(g, '元/吨', 19, 21, 0, 7.5, TXT);
  unitLabel(g, '元/桶', 472, 21, 0, 7.5, TXT);
  var xs = c1Dates.map(parseDate);
  drawLine(g, d3.zip(xs, c1Rape), x, y, '#9bbb59', 2.6);
  drawLine(g, d3.zip(xs, c1Soy), x, y, '#ffc000', 2.6);
  drawLine(g, d3.zip(xs, c1Palm), x, y, '#ff0000', 2.6);
  drawLine(g, d3.zip(xs, c1Crude), x, y2, '#000000', 2.8);
  legendLine(g, 47, 277, '#ff0000', 'DCE：棕榈油：指数合约：收盘价（日）', {size: 8, sw: 3.5});
  legendLine(g, 288, 277, '#ffc000', 'DCE：豆油：指数合约：收盘价（日）', {size: 8, sw: 3.5});
  legendLine(g, 47, 287, '#9bbb59', 'CZCE：菜油：指数合约：收盘价（日）', {size: 8, sw: 3.5});
  legendLine(g, 288, 287, '#000000', 'SHFE：原油：指数合约：收盘价（日）', {size: 8, sw: 3.5});
}

function chart2(g) {
  var b = [57, 21, 485, 203];
  var x = d3.scaleTime().domain([parseDate('2024-06-03'), parseDate('2026-10-03')]).range([b[0], b[2]]);
  var y = d3.scaleLinear().domain([0.70, 1.50]).range([b[3], b[1]]);
  var lg = defs.append('linearGradient').attr('id', 'bandGrad').attr('x1', 0).attr('x2', 0).attr('y1', 0).attr('y2', 1);
  lg.append('stop').attr('offset', '0%').attr('stop-color', '#f4f4f4');
  lg.append('stop').attr('offset', '100%').attr('stop-color', '#d2d2d2');
  var xs = c2Dates.map(parseDate);
  g.selectAll(null).data(xs).enter().append('rect')
    .attr('x', function(d) { return x(d); })
    .attr('width', function(d, i) { return i < xs.length - 1 ? Math.max(1, x(xs[i + 1]) - x(d) - 1) : 3; })
    .attr('y', y(c2BandTop)).attr('height', y(0.70) - y(c2BandTop)).attr('fill', 'url(#bandGrad)');
  addTitle(g, '原油和三大油脂涨幅(基准：2024年6月)', 252, 21, 12.5, {color: '#8c8c8c'});
  yAxisLeft(g, y, c2YTicks, b[0], 40, {size: 12, fmt: fmt2});
  hLine(g, b[0], b[2], b[3], '#bfbfbf');
  xAxisBottom(g, x, c2Ticks.map(parseDate), b[3], {fmt: d3.timeFormat('%Y-%m-%d'), size: 11, pad: 6, tick: 4, rot: -45});
  drawLine(g, d3.zip(xs, c2Soy), x, y, '#c86464', 1.5);
  drawLine(g, d3.zip(xs, c2Rape), x, y, '#9bbb59', 1.5);
  drawLine(g, d3.zip(xs, c2Palm), x, y, '#ff0000', 1.5);
  drawLine(g, d3.zip(xs, c2Crude), x, y, '#000000', 1.5);
  legendLine(g, 33, 272, '#ff0000', '棕榈油指数涨幅', {len: 25, size: 11, sw: 2});
  legendLine(g, 188, 272, '#c86464', '豆油指数涨幅', {len: 25, size: 11, sw: 2});
  legendLine(g, 33, 284, '#9bbb59', '菜油指数涨幅', {len: 25, size: 11, sw: 2});
  legendLine(g, 188, 284, '#000000', '原油指数涨幅', {len: 25, size: 11, sw: 2});
  g.append('text').attr('x', 310).attr('y', 272).attr('dominant-baseline', 'central')
    .style('font-size', '11px').attr('fill', '#8c8c8c').text('数据来源：WIND 混沌天成研究院');
}

function chart5(g) {
  var b = [80, 60, 489, 215];
  var x = d3.scaleTime().domain([parseDate('2026-04-07'), parseDate('2026-08-14')]).range([b[0], b[2]]);
  var y = d3.scaleLinear().domain([8800, 10200]).range([b[3], b[1]]);
  addTitle(g, '棕榈油期货和现货价格', 252, 32, 16);
  yAxisLeft(g, y, c5YTicks, b[0], 70, {size: 10.5});
  hLine(g, b[0], b[2], b[3], '#d9d9d9');
  xAxisBottom(g, x, c5Ticks.map(parseDate), b[3], {fmt: d3.timeFormat('%Y-%m-%d'), size: 10.5, pad: 6});
  unitLabel(g, '元/吨', 27, 138, -90, 10);
  var xs = c5Dates.map(parseDate);
  drawLine(g, d3.zip(xs, c5Spot), x, y, '#ff0000', 2.4);
  drawLine(g, d3.zip(xs, c5Futures), x, y, '#000000', 2.4);
  legendLine(g, 134, 252, '#000000', 'DCE：棕榈油：主力合约：收盘价（日）', {len: 28, size: 10.5, sw: 3.5});
  legendLine(g, 134, 272, '#ff0000', '棕榈油：24度：汇总价格：广州（日）', {len: 28, size: 10.5, sw: 3.5});
}

function chart6(g) {
  var b = [76, 39, 490, 199];
  var x = d3.scaleTime().domain([parseDate('2026-06-29'), parseDate('2026-08-13')]).range([b[0], b[2]]);
  var y = d3.scaleLinear().domain([-400, 300]).range([b[3], b[1]]);
  addTitle(g, '棕榈油分月对盘面进口利润', 256, 23, 16);
  yAxisLeft(g, y, c6YTicks, b[0], 53, {size: 10.5});
  hLine(g, b[0], b[2], y(0), '#d9d9d9');
  xAxisBottom(g, x, c6Ticks.map(parseDate), b[3], {fmt: d3.timeFormat('%Y-%m-%d'), size: 7, pad: 6, rot: -60});
  unitLabel(g, '元/吨', 17, 118, -90, 10);
  var xs = c6Dates.map(parseDate);
  drawLine(g, d3.zip(xs, c6Sep), x, y, '#7030a0', 2.6);
  drawLine(g, d3.zip(xs, c6Oct), x, y, '#9bbb59', 2.6);
  drawLine(g, d3.zip(xs, c6Nov), x, y, '#ff0000', 2.6);
  drawLine(g, d3.zip(xs, c6Dec), x, y, '#000000', 2.6);
  legendLine(g, 37, 250, '#7030a0', '棕榈油：9月船期：对盘利润（日）', {len: 26, size: 9.5, sw: 3.5});
  legendLine(g, 279, 250, '#9bbb59', '棕榈油：10月船期：对盘利润（日）', {len: 26, size: 9.5, sw: 3.5});
  legendLine(g, 37, 270, '#ff0000', '棕榈油：11月船期：对盘利润（日）', {len: 26, size: 9.5, sw: 3.5});
  legendLine(g, 279, 270, '#000000', '棕榈油：12月船期：对盘利润（日）', {len: 26, size: 9.5, sw: 3.5});
}

function chart23(g) {
  var b = [75, 59, 471, 169];
  var x = d3.scaleTime().domain([parseDate('2025-12-03'), parseDate('2026-08-14')]).range([b[0], b[2]]);
  var y = d3.scaleLinear().domain([-600, 1000]).range([b[3], b[1]]);
  addTitle(g, '三大油脂基差', 255, 32, 16);
  yAxisLeft(g, y, c23YTicks, b[0], 59, {size: 10, fmt: fmtComma});
  hLine(g, b[0], b[2], y(0), '#d9d9d9');
  xAxisBottom(g, x, c23Ticks.map(parseDate), b[3], {fmt: d3.timeFormat('%Y-%m-%d'), size: 9.5, pad: 9, rot: -60});
  var xs = c23Dates.map(parseDate);
  drawLine(g, d3.zip(xs, c23Rape), x, y, '#9bbb59', 2.2);
  drawLine(g, d3.zip(xs, c23Soy), x, y, '#ff0000', 2.2);
  drawLine(g, d3.zip(xs, c23Palm), x, y, '#000000', 2.2);
  legendLine(g, 124, 242, '#000000', '棕榈油基差', {len: 27, size: 10.5, sw: 3.5});
  legendLine(g, 229, 242, '#ff0000', '豆油基差', {len: 27, size: 10.5, sw: 3.5});
  legendLine(g, 320, 242, '#9bbb59', '菜油基差', {len: 27, size: 10.5, sw: 3.5});
}

// ---------------- 面板 ----------------
var PANELS = [
  ['图表1：原油和三大油脂走势', chart1],
  ['图表2：原油和三大油脂涨跌幅', chart2],
  ['图表3：棕榈油基差', function(g) { seasonChart(g, {title: '棕榈油基差(广东)', tx: 252, ty: 24, box: [80, 53, 495, 242], labX: 68,
    yt: c3Ticks, data: c3Basis, colors: SEASON_COLORS, ux: 27, uy: 147, lx: 38, lstep: 64, ly: 266}); }],
  ['图表4：棕榈油跨期', function(g) { spreadChart(g, {title: '9-1棕榈油', labels: LBL_91, yt: c4Ticks, data: c4Spread}); }],
  ['图表5：棕榈油期货现货', chart5],
  ['图表6：棕榈油分月进口利润', chart6],
  ['图表7：棕榈油跨期', function(g) { spreadChart(g, {title: '1-5棕榈油', labels: LBL_15, yt: c7Ticks, data: c7Spread}); }],
  ['图表8：棕榈油跨期', function(g) { spreadChart(g, {title: '5-9棕榈油', labels: LBL_59, yt: c8Ticks, data: c8Spread}); }],
  ['图表9：豆油基差', function(g) { seasonChart(g, {title: '豆油基差', tx: 252, ty: 24, box: [80, 53, 495, 242], labX: 68,
    yt: c9Ticks, data: c9Basis, colors: SEASON_COLORS, ux: 27, uy: 147, lx: 38, lstep: 64, ly: 266}); }],
  ['图表10：豆油跨期', function(g) { spreadChart(g, {title: '9-1豆油', labels: LBL_91, yt: c10Ticks, data: c10Spread}); }],
  ['图表11：豆油跨期', function(g) { spreadChart(g, {title: '1-5豆油', labels: LBL_15, yt: c11Ticks, data: c11Spread}); }],
  ['图表12：豆油跨期', function(g) { spreadChart(g, {title: '5-9豆油', labels: LBL_59, yt: c12Ticks, data: c12Spread}); }],
  ['图表13：菜油基差', function(g) { seasonChart(g, {title: '菜油基差', tx: 252, ty: 24, box: [80, 53, 495, 242], labX: 68,
    yt: c13Ticks, data: c13Basis, years: c13Years, colors: RAPE_COLORS, ux: 27, uy: 147, lx: 110, lstep: 76, ly: 266}); }],
  ['图表14：菜油跨期', function(g) { spreadChart(g, {title: '9-1菜油', labels: LBL_91, yt: c14Ticks, data: c14Spread}); }],
  ['图表15：菜油跨期', function(g) { spreadChart(g, {title: '1-5菜油', labels: LBL_15, yt: c15Ticks, data: c15Spread}); }],
  ['图表16：菜油跨期', function(g) { spreadChart(g, {title: '5-9菜油', labels: LBL_59, yt: c16Ticks, data: c16Spread}); }],
  ['图表17：棕榈油期现结构', function(g) { structChart(g, {title: '棕榈油期现结构', cats: c17Cats, vals: c17Vals, yt: c17Ticks}); }],
  ['图表18：全国棕榈油周度库存', function(g) { weekChart(g, {title: '全国棕榈油周度库存', yt: c18Ticks, data: c18Stock, avg: c18Avg}); }],
  ['图表19：豆油期现结构', function(g) { structChart(g, {title: '豆油期现结构', cats: c19Cats, vals: c19Vals, yt: c19Ticks, ty: 24, ly: 266}); }],
  ['图表20：全国主要油厂豆油周度库存', function(g) { weekChart(g, {title: '全国主要油厂豆油周度库存', yt: c20Ticks, data: c20Stock, avg: c20Avg, ty: 24, bottom: 212, ly: 249}); }],
  ['图表21：菜油期现结构', function(g) { structChart(g, {title: '菜油期现结构', cats: c21Cats, vals: c21Vals, yt: c21Ticks}); }],
  ['图表22：华东地区主要油厂菜油周度库存', function(g) { weekChart(g, {title: '华东地区主要油厂菜油周度库存', yt: c22Ticks, data: c22Stock, avg: c22Avg}); }],
  ['图表23：三大油脂基差', chart23],
  ['图表24：三大油脂库存汇总', function(g) { weekChart(g, {title: '全国三大油脂周度总库存', yt: c24Ticks, data: c24Stock, avg: c24Avg, ty: 24, bottom: 214, ly: 252}); }],
  ['图表25：中国现货压榨毛利：南美豆', function(g) { seasonChart(g, {title: '南美大豆现货压榨毛利', tx: 248, ty: 35, tweight: 'normal', box: [80, 63, 476, 236], labX: 65,
    yt: c25Ticks, data: c25Margin, colors: SEASON_COLORS, ux: 25, uy: 130, lx: 38, lstep: 62, ly: 261}); }],
  ['图表26：中国现货压榨毛利：美豆', function(g) { seasonChart(g, {title: '美国大豆现货压榨毛利', tx: 253, ty: 32, tweight: 'normal', box: [84, 59, 480, 236], labX: 68,
    yt: c26Ticks, data: c26Margin, colors: SEASON_COLORS, ux: 28, uy: 120, lx: 40, lstep: 62, ly: 261}); }]
];

// ---------------- 底色与框线 ----------------
svg.insert('rect', ':first-child').attr('x', 0).attr('y', 0).attr('width', 1025).attr('height', 4456).attr('fill', '#fff');
var frame = svg.append('g');
d3.range(0, 14).forEach(function(r) {
  var top = 298 + r * 317;
  hLine(frame, 0, 1025, top, GOLD, 2.5);
  if (r < 13) hLine(frame, 0, 1025, top + 28, GOLD, 2);
});
frame.append('line').attr('x1', 512).attr('x2', 512).attr('y1', 298).attr('y2', 4418).attr('stroke', GOLD).attr('stroke-width', 2);
frame.append('rect').attr('x', 1.25).attr('y', 1.25).attr('width', 1022.5).attr('height', 4453.5)
  .attr('fill', 'none').attr('stroke', GOLD).attr('stroke-width', 2.5);

// ---------------- 页脚 ----------------
svg.append('text').attr('x', 8).attr('y', 4437).attr('dominant-baseline', 'central')
  .style('font-size', '21px').style('font-weight', 'bold').style('letter-spacing', '2px')
  .attr('fill', '#111').text('数据来源：钢联数据，Wind，混沌天成研究院');

// ---------------- 页眉 ----------------
svg.append('text').attr('x', 10).attr('y', 62).style('font-size', '50px').attr('fill', '#c9a065')
  .attr('textLength', 196).attr('lengthAdjust', 'spacingAndGlyphs').text('混沌天成');
svg.append('rect').attr('x', 217).attr('y', 12).attr('width', 143).attr('height', 54).attr('fill', '#c49b62');
svg.append('text').attr('x', 288).attr('y', 40).attr('text-anchor', 'middle').attr('dominant-baseline', 'central')
  .style('font-size', '42px').attr('fill', '#fff').attr('textLength', 128).attr('lengthAdjust', 'spacingAndGlyphs').text('研究院');
svg.append('text').attr('x', 622).attr('y', 40).attr('text-anchor', 'middle').attr('dominant-baseline', 'central')
  .style('font-size', '32px').style('font-weight', 'bold').attr('fill', '#111')
  .attr('textLength', 305).attr('lengthAdjust', 'spacing').text('混沌天成油脂日报');
svg.append('text').attr('x', 950).attr('y', 40).attr('text-anchor', 'middle').attr('dominant-baseline', 'central')
  .style('font-size', '22px').attr('fill', '#111').attr('textLength', 106).attr('lengthAdjust', 'spacingAndGlyphs').text('2026/8/14');

// ---------------- 表格 ----------------
var COLS = [0, 220, 366, 512, 730, 877, 1025];
var ROW0 = 107, ROWH = 19.1;
['现货与价差', '最新', '日涨跌', '供需与利润', '当期', '当期涨跌'].forEach(function(h, i) {
  svg.append('text').attr('x', (COLS[i] + COLS[i + 1]) / 2 + 1).attr('y', 92).attr('text-anchor', 'middle')
    .attr('dominant-baseline', 'central').style('font-size', '21px').style('font-weight', 'bold')
    .style('letter-spacing', '3px').attr('fill', '#111').text(h);
});
var tableCols = [spotNames, spotLatest, spotChange, supplyNames, supplyNow, supplyChange];
tableCols.forEach(function(col, c) {
  col.forEach(function(v, r) {
    svg.append('text').attr('x', (COLS[c] + COLS[c + 1]) / 2).attr('y', ROW0 + ROWH * (r + 0.5) + 0.5)
      .attr('text-anchor', 'middle').attr('dominant-baseline', 'central')
      .style('font-size', '14px').style('letter-spacing', (c === 0 || c === 3) ? '2px' : '0px')
      .attr('fill', '#222').text(v);
  });
});
d3.range(1, 10).forEach(function(r) { hLine(svg, 0, 1025, ROW0 + ROWH * r, GOLD, 1.2); });
COLS.slice(1, 6).forEach(function(cx) {
  svg.append('line').attr('x1', cx).attr('x2', cx).attr('y1', ROW0).attr('y2', 298).attr('stroke', GOLD).attr('stroke-width', 1.4);
});
[76, 107].forEach(function(yy) { hLine(svg, 0, 1025, yy, GOLD, 2.5); });

// ---------------- 图表面板 ----------------
PANELS.forEach(function(p, i) {
  var r = Math.floor(i / 2), c = i % 2;
  var x0 = c ? 512 : 0, w = c ? 513 : 512;
  var top = 298 + r * 317;
  svg.append('text').attr('x', x0 + 7).attr('y', top + 15).attr('dominant-baseline', 'central')
    .style('font-size', '18px').style('font-weight', 'bold').style('letter-spacing', '3px')
    .attr('fill', '#111').text(p[0]);
  var g = svg.append('g').attr('transform', 'translate(' + x0 + ',' + (top + 28) + ')');
  p[1](g, w);
});
</script>
</body>
</html>
